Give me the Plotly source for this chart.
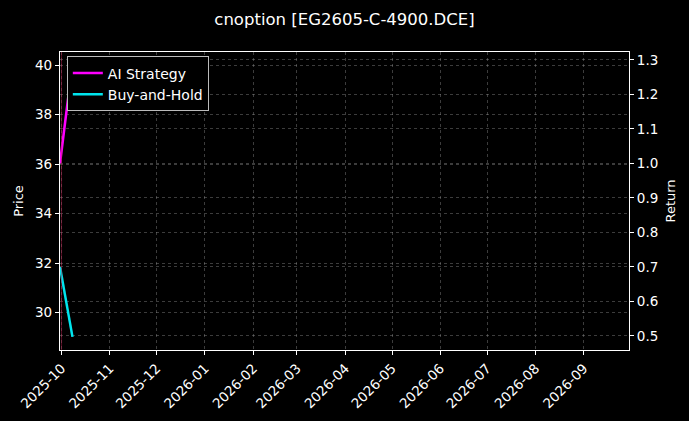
import plotly.graph_objects as go

# data
dates = ["2025-09-30", "2025-10-08"]
ai_strategy = [1.00, 1.29]
buy_and_hold = [0.70, 0.497]
price_dates = []
price_values = []
signal_dates = ["2025-10-01"]
month_ticks = ["2025-10-01", "2025-11-01", "2025-12-01", "2026-01-01", "2026-02-01",
               "2026-03-01", "2026-04-01", "2026-05-01", "2026-06-01", "2026-07-01",
               "2026-08-01", "2026-09-01"]
month_labels = [d[:7] for d in month_ticks]

fig = go.Figure()

# price axis (left) - keeps the left axis drawn
fig.add_trace(go.Scatter(x=price_dates, y=price_values, name="Price", mode="lines",
                         line=dict(color="rgba(200,30,80,0.45)", width=1),
                         showlegend=False, yaxis="y"))
fig.add_trace(go.Scatter(x=dates, y=ai_strategy, name="AI Strategy", mode="lines",
                         line=dict(color="#ff00ff", width=2.5), yaxis="y2"))
fig.add_trace(go.Scatter(x=dates, y=buy_and_hold, name="Buy-and-Hold", mode="lines",
                         line=dict(color="#00e5ee", width=2.5), yaxis="y2"))

for d in signal_dates:
    fig.add_vline(x=d, line=dict(color="rgba(200,30,80,0.45)", width=1))

grid = "rgba(150,150,150,0.4)"
axis_common = dict(showline=True, linecolor="white", linewidth=1.2, mirror=True,
                   ticks="outside", tickcolor="white", ticklen=4, automargin=False,
                   tickfont=dict(color="white", size=13.5), zeroline=False,
                   showgrid=True, gridcolor=grid, griddash="dot", gridwidth=0.7)

fig.update_layout(
    width=689, height=421,
    paper_bgcolor="black", plot_bgcolor="black",
    font=dict(family="DejaVu Sans", color="white", size=13),
    title=dict(text="cnoption [EG2605-C-4900.DCE]", x=0.5, xanchor="center",
               y=0.955, yanchor="middle", font=dict(size=16.5, color="white")),
    margin=dict(l=60, r=60, t=52, b=71),
    showlegend=True,
    legend=dict(x=0.012, y=0.985, xanchor="left", yanchor="top",
                bgcolor="black", bordercolor="#bbbbbb", borderwidth=1,
                font=dict(size=14, color="white"), tracegroupgap=0),
    xaxis=dict(axis_common, type="date", range=["2025-09-30", "2026-09-30"],
               tickvals=month_ticks, ticktext=month_labels, tickangle=-45),
    yaxis=dict(axis_common, title=dict(text="Price", font=dict(size=13), standoff=8),
               range=[28.49, 40.53], tickvals=[30, 32, 34, 36, 38, 40]),
    yaxis2=dict(axis_common, overlaying="y", side="right",
                title=dict(text="Return", font=dict(size=13), standoff=8),
                range=[0.459, 1.323],
                tickvals=[0.5, 0.6, 0.7, 0.8, 0.9, 1.0, 1.1, 1.2, 1.3],
                ticktext=["0.5", "0.6", "0.7", "0.8", "0.9", "1.0", "1.1", "1.2", "1.3"]),
)

fig.write_html("out.html", config={"displayModeBar": False},
               post_script="document.body.style.margin='0px';")
